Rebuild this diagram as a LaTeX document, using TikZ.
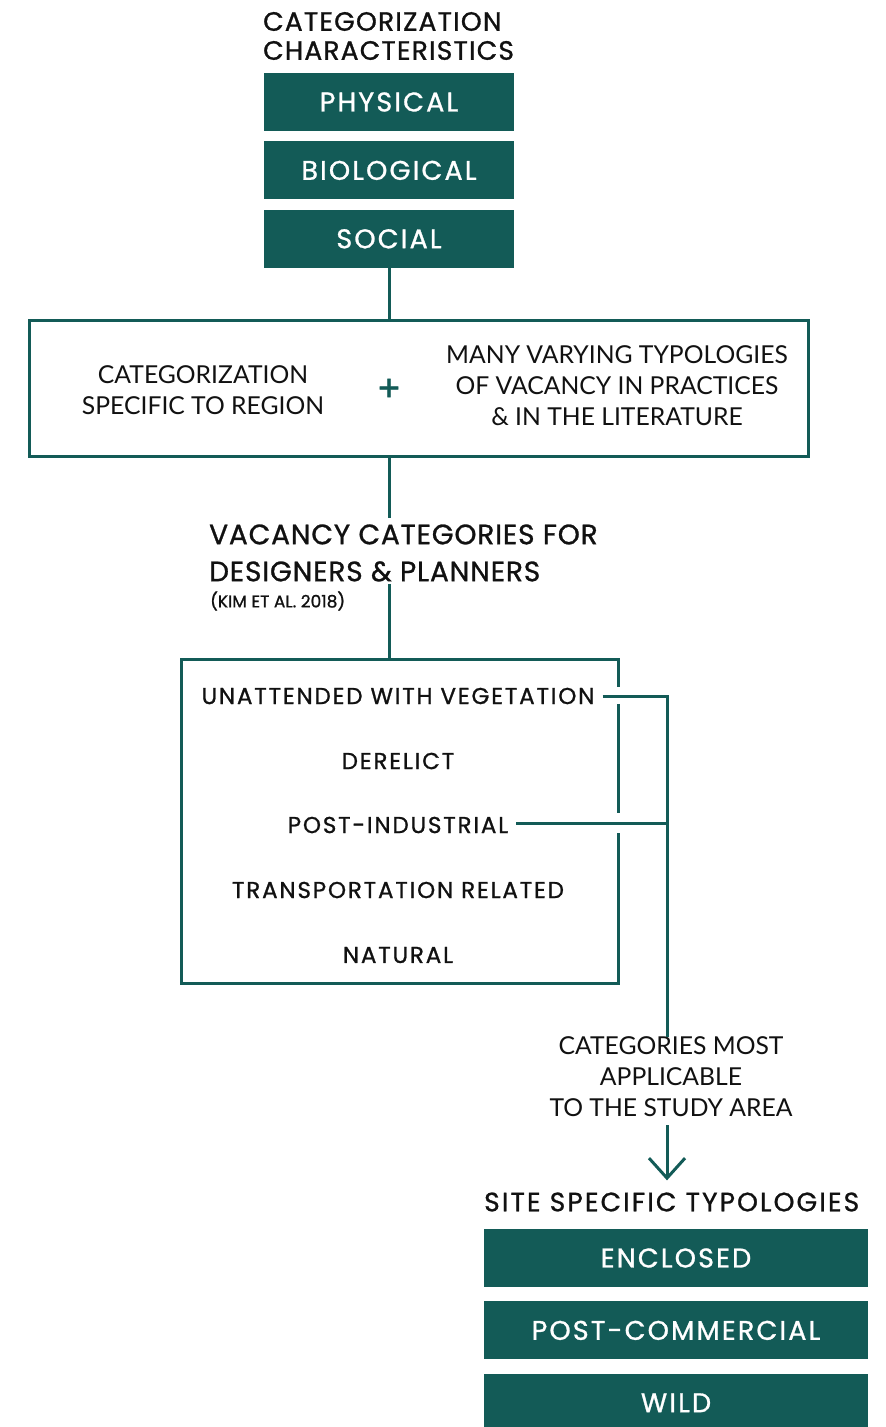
\documentclass[tikz,border=0pt]{standalone}
\usepackage{fontspec}
\setmainfont{Poppins}
\newfontfamily\headfont{Poppins}[FakeBold=1]
\newfontfamily\lightfont{Lato}
\usepackage{xcolor}
\usetikzlibrary{arrows.meta, positioning}
\definecolor{vteal}{HTML}{135B57}
\definecolor{ink}{HTML}{111111}

\begin{document}
\begin{tikzpicture}[
    x=1pt, y=-1pt,
    node distance=10pt,
    catbox/.style={fill=vteal, text=white, minimum width=250pt, minimum height=58pt, inner sep=0pt,
        font=\headfont\addfontfeatures{LetterSpace=8}\fontsize{27}{30}\selectfont},
    sitebox/.style={catbox, minimum width=384pt},
    frame/.style={draw=vteal, line width=3pt},
    line/.style={draw=vteal, line width=3pt},
    head/.style={text=ink, align=left, inner sep=0pt,
        font=\headfont\addfontfeatures{LetterSpace=4.5}\fontsize{26.5}{29}\selectfont},
    bighead/.style={head, font=\headfont\addfontfeatures{LetterSpace=3}\fontsize{28}{37}\selectfont},
    sitehead/.style={head, font=\headfont\addfontfeatures{LetterSpace=8}\fontsize{26.5}{30}\selectfont},
    light/.style={text=ink, align=center, inner sep=0pt, font=\lightfont\fontsize{24.7}{31}\selectfont},
    item/.style={text=ink, inner sep=0pt,
        font=\headfont\addfontfeatures{LetterSpace=8}\fontsize{23}{26}\selectfont}
]
\useasboundingbox (0,0) rectangle (886,1427);

% characteristics
\node[head, anchor=west] (title) at (263,36) {CATEGORIZATION\\CHARACTERISTICS};
\node[catbox] (physical) at (389,102) {PHYSICAL};
\node[catbox, below=of physical] (biological) {BIOLOGICAL};
\node[catbox, below=of biological] (social) {SOCIAL};

% sources
\node[frame, minimum width=779pt, minimum height=136pt, inner sep=0pt] (sources) at (419,388.5) {};
\node[light] (region) at (203,390) {CATEGORIZATION\\SPECIFIC TO REGION};
\node[text=vteal, inner sep=0pt, font=\headfont\fontsize{36}{36}\selectfont] (plus) at (389,390) {+};
\node[light] (literature) at (617,386) {MANY VARYING TYPOLOGIES\\OF VACANCY IN PRACTICES\\\& IN THE LITERATURE};
\draw[line] (social.south) -- (social.south |- sources.north);

% vacancy categories
\node[bighead, anchor=west] (vacancy) at (209,553) {VACANCY CATEGORIES FOR\\DESIGNERS \& PLANNERS};
\node[text=ink, inner sep=0pt, anchor=west, font=\headfont\fontsize{17}{19}\selectfont] (kim) at (210,601) {(KIM ET AL. 2018)};
\draw[line] (sources.south -| social.south) -- ([yshift=6pt]vacancy.north -| social.south);

\node[minimum width=437pt, minimum height=324pt, inner sep=0pt] (list) at (400,821.5) {};
\draw[line] ([yshift=-2pt]vacancy.south -| social.south) -- (list.north -| social.south);
\draw[line] ([yshift=-27.5pt]list.north east) -- (list.north east) -- (list.north west)
    -- (list.south west) -- (list.south east) -- ([yshift=-173.5pt]list.north east);
\draw[line] ([yshift=-44.5pt]list.north east) -- ([yshift=-153.5pt]list.north east);
\node[item] (unattended) at (398,696) {UNATTENDED WITH VEGETATION};
\node[item] (derelict) at (398,761) {DERELICT};
\node[item] (postind) at (398,825) {POST-INDUSTRIAL};
\node[item] (transport) at (398,890) {TRANSPORTATION RELATED};
\node[item] (natural) at (398,955) {NATURAL};

% selection
\coordinate (jtop) at (667,696);
\coordinate (jmid) at (667,823);
\node[light] (applicable) at (671,1077) {CATEGORIES MOST\\APPLICABLE\\TO THE STUDY AREA};
\draw[line] ([xshift=8pt]unattended.east) -- (jtop) -- (applicable.north -| jtop);
\draw[line] ([xshift=8pt]postind.east |- jmid) -- (jmid);

% site typologies
\node[sitehead, anchor=west] (sitehead) at (484,1202) {SITE SPECIFIC TYPOLOGIES};
\draw[line, -{Straight Barb[length=20pt, width=36pt]}] ([yshift=-8pt]applicable.south -| jtop) -- ([yshift=12pt]sitehead.north -| jtop);
\node[sitebox] (enclosed) at (676,1258) {ENCLOSED};
\node[sitebox, below=14pt of enclosed] (postcom) {POST-COMMERCIAL};
\node[sitebox, below=14pt of postcom] (wild) {WILD};
\end{tikzpicture}
\end{document}
